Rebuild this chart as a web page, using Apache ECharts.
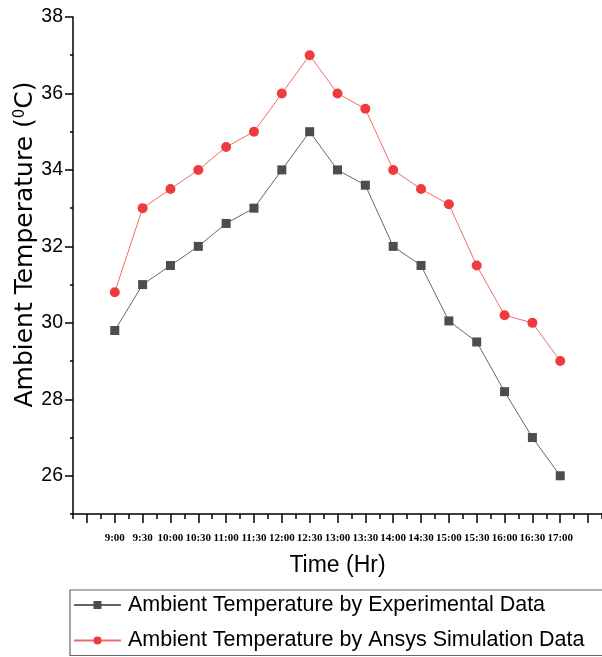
<!DOCTYPE html>
<html>
<head>
<meta charset="utf-8">
<title>Ambient Temperature</title>
<script src="https://cdn.jsdelivr.net/npm/echarts@6/dist/echarts.min.js"></script>
<style>
	html, body { margin: 0; padding: 0; background: #fff; }
	#chart { width: 602px; height: 657px; }
</style>
</head>
<body>
	<div id="chart"></div>
<script type="text/javascript">
	"use strict";
	// times of the readings (shown as x tick labels)
	var times = [ '9:00', '9:30', '10:00', '10:30', '11:00', '11:30', '12:00', '12:30',
			'13:00', '13:30', '14:00', '14:30', '15:00', '15:30', '16:00', '16:30', '17:00' ];
	// experimental readings
	var experimental = [ 29.8, 31, 31.5, 32, 32.6, 33, 34, 35, 34, 33.6, 32, 31.5, 30.05,
			29.5, 28.2, 27, 26 ];
	// ansys simulation
	var simulation = [ 30.8, 33, 33.5, 34, 34.6, 35, 36, 37, 36, 35.6, 34, 33.5, 33.1,
			31.5, 30.2, 30, 29 ];
	// y axis: labelled ticks every 2, small ticks every 1
	var yMin = 25, yMax = 38, yLabelMin = 26;

	// quarter-hour slots 8:15 .. 17:45 for the axis
	var slots = [];
	for (var m = 8 * 60 + 15; m <= 17 * 60 + 45; m += 15) {
		var mm = m % 60;
		slots.push(Math.floor(m / 60) + ':' + (mm < 10 ? '0' + mm : mm));
	}

	function pairs(vals) {
		return times.map(function(t, i) {
			return [ t, vals[i] ];
		});
	}

	var W = 602, H = 657;
	var gridTop = 17, gridBottom = 143;
	var plotH = H - gridTop - gridBottom;
	// second grid only carries the long labelled y ticks (26..38)
	var labelGridBottom = gridBottom + (yLabelMin - yMin) / (yMax - yMin) * plotH;

	var axisColor = '#000';
	var tickStyle = {
		color : axisColor,
		width : 1.5
	};
	var option = {
		animation : false,
		grid : [ {
			left : 73,
			right : 0,
			top : gridTop,
			bottom : gridBottom
		}, {
			left : 73,
			right : 0,
			top : gridTop,
			bottom : labelGridBottom
		} ],
		legend : {
			orient : 'vertical',
			left : 70,
			top : 590,
			padding : [ 4, 30, 4, 3 ],
			itemGap : 13.5,
			itemWidth : 47,
			itemHeight : 10,
			borderColor : '#666',
			borderWidth : 1.2,
			textStyle : {
				fontFamily : 'Liberation Sans',
				fontSize : 21.5,
				color : '#000',
				padding : [ 0, 0, 0, 2 ]
			},
			data : [ 'Ambient Temperature by Experimental Data',
					'Ambient Temperature by Ansys Simulation Data' ]
		},
		xAxis : [ {
			type : 'category',
			gridIndex : 0,
			data : slots,
			boundaryGap : false,
			position : 'bottom',
			name : 'Time (Hr)',
			nameLocation : 'middle',
			nameGap : 40,
			nameTextStyle : {
				fontFamily : 'Liberation Sans',
				fontSize : 23,
				color : '#000'
			},
			axisLine : {
				lineStyle : tickStyle
			},
			axisTick : {
				interval : 0,
				length : 5,
				lineStyle : tickStyle
			},
			axisLabel : {
				interval : function(index, value) {
					return times.indexOf(value) >= 0;
				},
				margin : 19,
				fontFamily : 'Liberation Serif',
				fontWeight : 'bold',
				fontSize : 11,
				color : '#000'
			},
			splitLine : {
				show : false
			}
		}, {
			type : 'category',
			gridIndex : 0,
			data : slots,
			boundaryGap : false,
			position : 'bottom',
			axisLine : {
				show : false
			},
			axisTick : {
				interval : function(index) {
					return index % 2 === 1;
				},
				length : 9,
				lineStyle : tickStyle
			},
			axisLabel : {
				show : false
			},
			splitLine : {
				show : false
			}
		}, {
			type : 'value',
			gridIndex : 1,
			show : false
		} ],
		yAxis : [ {
			type : 'value',
			gridIndex : 0,
			min : yMin,
			max : yMax,
			interval : 1,
			name : '{t|Ambient Temperature (}{s|0}{t|C)}',
			nameLocation : 'middle',
			nameGap : 35,
			nameTextStyle : {
				padding : [ 0, 0, 0, 42 ],
				rich : {
					t : {
						fontFamily : 'DejaVu Sans',
						fontSize : 25,
						color : '#000'
					},
					s : {
						fontFamily : 'DejaVu Sans',
						fontSize : 15,
						color : '#000',
						verticalAlign : 'top'
					}
				}
			},
			axisLine : {
				show : true,
				lineStyle : tickStyle
			},
			axisTick : {
				show : true,
				length : 3,
				lineStyle : tickStyle
			},
			axisLabel : {
				show : false
			},
			splitLine : {
				show : false
			}
		}, {
			type : 'value',
			gridIndex : 1,
			min : yLabelMin,
			max : yMax,
			interval : 2,
			axisLine : {
				show : false
			},
			axisTick : {
				show : true,
				length : 8,
				lineStyle : tickStyle
			},
			axisLabel : {
				margin : 10,
				fontFamily : 'Liberation Sans',
				fontSize : 19.5,
				color : '#000'
			},
			splitLine : {
				show : false
			}
		} ],
		series : [ {
			name : 'Ambient Temperature by Experimental Data',
			type : 'line',
			xAxisIndex : 0,
			yAxisIndex : 0,
			symbol : 'rect',
			symbolSize : 9,
			lineStyle : {
				color : '#666',
				width : 1
			},
			itemStyle : {
				color : '#4d4d4d'
			},
			data : pairs(experimental)
		}, {
			name : 'Ambient Temperature by Ansys Simulation Data',
			type : 'line',
			xAxisIndex : 0,
			yAxisIndex : 0,
			symbol : 'circle',
			symbolSize : 10,
			lineStyle : {
				color : '#f06a6a',
				width : 1
			},
			itemStyle : {
				color : '#ee3b40'
			},
			data : pairs(simulation)
		} ]
	};

	var chart = echarts.init(document.getElementById('chart'));
	chart.setOption(option);
</script>
</body>
</html>
